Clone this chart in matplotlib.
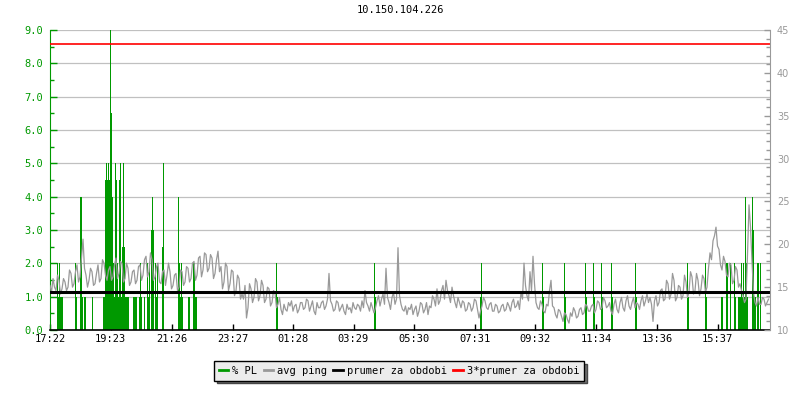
import numpy as np
import matplotlib
matplotlib.use("Agg")
import matplotlib.pyplot as plt
from matplotlib.lines import Line2D
from matplotlib.ticker import MultipleLocator, FormatStrFormatter

title = "10.150.104.226"
x_labels = ["17:22", "19:23", "21:26", "23:27", "01:28", "03:29",
            "05:30", "07:31", "09:32", "11:34", "13:36", "15:37"]
period_minutes = 1440
ping_step = 3  # minutes between ping samples

# avg ping [ms], one value per 3 minutes from 17:22 (one row ~ 2 hours)
avg_ping = [
    15.2, 14.4, 16.0, 15.0, 14.6, 16.4, 15.8, 14.2, 14.8, 16.0, 15.6, 14.6, 15.0, 17.0, 16.6, 15.0, 15.4, 16.8, 17.6, 15.6,
    16.2, 18.4, 20.6, 17.2, 16.4, 15.0, 15.8, 17.2, 16.8, 15.2, 15.4, 16.6, 17.6, 15.6, 16.0, 18.2, 17.8, 16.4, 15.8, 17.0,
    17.4, 15.8, 16.2, 17.6, 18.4, 16.0, 16.6, 18.0, 17.8, 15.6, 16.0, 17.8, 17.2, 15.2, 15.6, 16.8, 17.0, 15.4, 15.8, 17.4,
    17.6, 15.8, 16.4, 18.2, 18.6, 16.2, 16.8, 19.0, 18.2, 15.8, 16.2, 17.4, 17.8, 15.6, 15.4, 16.8, 17.0, 15.2, 16.4, 17.8,
    16.8, 14.8, 15.2, 16.4, 16.6, 14.6, 15.0, 17.0, 16.8, 15.2, 15.6, 17.4, 17.2, 15.6, 16.0, 17.8, 18.0, 15.8, 16.4, 18.4,
    18.6, 16.2, 17.0, 19.0, 18.8, 16.8, 17.2, 18.8, 18.4, 16.0, 16.6, 18.2, 19.2, 16.8, 17.4, 14.8, 15.6, 17.8, 17.4, 14.6,
    15.4, 17.0, 16.8, 14.0, 14.6, 16.4, 16.0, 13.6, 14.2, 13.6, 15.2, 11.4, 12.6, 15.4, 14.8, 13.2, 13.8, 16.0, 15.6, 13.4,
    14.0, 15.8, 15.2, 13.2, 13.6, 15.0, 14.8, 12.8, 13.2, 14.6, 14.4, 12.6, 13.0, 13.8, 12.4, 11.8, 13.0, 12.4, 12.2, 13.2,
    12.8, 13.4, 12.2, 12.8, 13.0, 12.0, 12.4, 13.2, 13.2, 12.4, 12.6, 13.6, 13.4, 12.2, 12.8, 13.4, 12.2, 11.8, 13.2, 12.6,
    12.6, 13.2, 13.4, 12.4, 12.8, 13.6, 16.6, 13.4, 13.0, 12.2, 12.4, 13.4, 13.2, 12.2, 12.6, 13.0, 12.2, 11.8, 13.0, 12.4,
    12.6, 12.0, 13.2, 12.6, 12.4, 13.0, 12.8, 12.2, 13.4, 12.6, 14.6, 13.2, 12.8, 12.2, 13.2, 12.6, 12.0, 12.6, 13.4, 14.0,
    12.8, 13.6, 14.2, 13.0, 17.2, 13.8, 13.2, 12.4, 13.8, 14.4, 13.0, 13.6, 19.6, 14.0, 13.0, 12.4, 12.2, 12.8, 11.8, 12.6,
    12.4, 13.0, 11.8, 12.4, 12.8, 11.6, 12.2, 13.2, 13.0, 12.0, 12.4, 13.2, 11.8, 12.8, 12.6, 14.0, 13.6, 12.8, 14.8, 13.0,
    13.4, 14.6, 15.2, 13.6, 15.8, 14.6, 14.0, 13.2, 15.0, 14.0, 13.2, 12.6, 13.8, 13.2, 12.6, 13.4, 13.2, 12.2, 12.4, 13.2,
    13.0, 12.2, 12.6, 13.6, 13.4, 12.4, 11.4, 12.2, 12.8, 13.8, 13.4, 12.6, 12.4, 13.0, 13.2, 12.2, 12.2, 13.0, 12.8, 12.0,
    12.2, 12.8, 13.0, 12.2, 12.4, 13.2, 12.8, 12.2, 13.2, 13.6, 12.6, 12.8, 13.4, 12.4, 14.4, 13.6, 17.8, 15.2, 14.0, 13.4,
    16.8, 14.6, 18.6, 15.4, 13.2, 12.6, 12.4, 13.4, 13.0, 12.2, 12.0, 13.0, 12.8, 14.6, 15.8, 12.8, 12.6, 11.8, 11.4, 12.4,
    12.2, 11.6, 11.0, 12.0, 11.8, 11.2, 10.8, 12.0, 11.6, 12.6, 12.2, 11.4, 11.6, 12.4, 12.6, 11.8, 12.0, 13.0, 12.8, 12.2,
    12.2, 12.8, 13.0, 12.0, 12.4, 13.4, 13.2, 12.4, 12.6, 13.8, 13.4, 12.6, 12.8, 13.2, 12.2, 11.8, 13.0, 13.6, 12.4, 12.0,
    13.2, 13.8, 12.6, 12.2, 13.4, 14.0, 12.8, 12.4, 13.2, 13.8, 12.6, 13.2, 13.0, 12.4, 13.4, 14.0, 12.8, 13.4, 14.2, 13.2,
    13.8, 13.0, 11.0, 13.4, 14.0, 12.8, 13.2, 14.6, 14.8, 13.4, 13.6, 15.8, 15.4, 13.6, 14.2, 16.6, 15.8, 13.4, 13.8, 15.2,
    15.0, 13.6, 14.0, 16.4, 15.6, 13.8, 14.4, 16.8, 16.2, 14.2, 14.6, 16.6, 15.8, 14.0, 14.8, 16.4, 16.0, 14.4, 15.0, 17.2,
    19.0, 18.2, 20.4, 21.0, 22.0, 19.8, 19.4, 17.6, 17.0, 18.6, 18.0, 16.4, 16.2, 17.8, 17.6, 15.4, 15.8, 17.4, 17.0, 15.0,
    15.4, 14.6, 14.0, 13.2, 13.6, 18.8, 24.6, 22.0, 18.0, 14.4, 13.2, 12.8, 13.8, 13.0, 13.0, 13.8, 13.6, 12.8, 13.2, 13.6,
]

# packet loss samples (minutes from 17:22, percent)
pl_minute = [14, 16, 18, 20, 22, 24, 50, 52, 60, 62, 64, 68, 70, 84,
             106, 108, 110, 112, 114, 116, 118, 120, 122, 124, 126, 128, 130, 132,
             134, 136, 138, 140, 142, 144, 146, 148, 150, 152, 154, 156,
             166, 168, 170, 172, 178, 180, 182, 188, 194, 196, 198, 202, 204, 206,
             210, 212, 214, 224, 226, 256, 258, 260, 262, 264, 276, 278,
             286, 288, 290, 292, 452, 454, 648, 650, 860, 862, 984, 986,
             1028, 1030, 1070, 1072, 1086, 1088, 1102, 1104, 1122, 1124, 1170, 1172,
             1274, 1276, 1310, 1312, 1342, 1344, 1352, 1354, 1360, 1368, 1370,
             1376, 1378, 1380, 1382, 1384, 1386, 1388, 1390, 1392, 1394,
             1404, 1406, 1408, 1410, 1414, 1416, 1420]
pl_value = [2, 1, 2, 1, 1, 1, 2, 1, 4, 4, 1, 1, 1, 1,
            1, 1, 4.5, 5, 4.5, 5, 4.5, 9, 6.5, 4, 2, 1, 5, 4.5,
            2, 1, 4.5, 5, 1, 2.5, 5, 2.5, 1, 1, 1, 1,
            1, 1, 1, 1, 1, 2, 1, 1, 2, 1, 2, 3, 4, 3,
            2, 1, 2, 2.5, 5, 4, 2, 1, 2, 1, 1, 1,
            2, 2, 1, 1, 2, 1, 2, 1, 1, 2, 2, 1,
            2, 1, 2, 1, 2, 1, 2, 1, 2, 1, 2, 1,
            2, 1, 2, 1, 1, 1, 2, 2, 2, 2, 1,
            1, 1, 1, 2, 1, 2, 1, 4, 2, 1,
            4, 3, 1, 1, 2, 2, 2]

ping_avg = 14.47  # prumer za obdobi

GREEN = "#009900"
GRAY = "#999999"
MONO = "DejaVu Sans Mono"


def to_minutes(labels):
    # clock labels -> minutes after the first one (wraps over midnight)
    h0, m0 = map(int, labels[0].split(":"))
    out = []
    for lab in labels:
        h, m = map(int, lab.split(":"))
        d = (h * 60 + m) - (h0 * 60 + m0)
        if d < 0:
            d += 1440
        out.append(d)
    return out


ping_t = np.arange(len(avg_ping)) * ping_step

fig = plt.figure(figsize=(8, 4), dpi=100)
ax = fig.add_axes([0.0625, 0.175, 0.9, 0.75])
ax2 = ax.twinx()

ax.set_xlim(0, period_minutes)
ax.set_ylim(0, 9)
ax2.set_ylim(10, 45)

ax.yaxis.set_major_locator(MultipleLocator(1))
ax.yaxis.set_minor_locator(MultipleLocator(0.5))
ax.yaxis.set_major_formatter(FormatStrFormatter("%.1f"))
ax.grid(axis="y", color="#c0c0c0", lw=0.9)
ax.set_axisbelow(True)

ax.bar(pl_minute, pl_value, width=2.3, align="edge", color=GREEN,
       linewidth=0, antialiased=False, zorder=2)

ax2.plot(ping_t, avg_ping, color=GRAY, lw=0.9)
ax2.axhline(ping_avg, color="black", lw=2.2)
ax2.axhline(3 * ping_avg, color="red", lw=1.2)

ax.set_xticks(to_minutes(x_labels))
ax.set_xticklabels(x_labels, fontfamily=MONO, fontsize=7.5)
ax.tick_params(axis="x", direction="in", length=4, width=1, color="black", pad=3)

ax.tick_params(axis="y", which="major", direction="in", length=5, width=1,
               colors=GREEN, labelsize=7.5, pad=5)
ax.tick_params(axis="y", which="minor", direction="in", length=3, width=1, colors=GREEN)
for lab in ax.get_yticklabels():
    lab.set_fontfamily(MONO)

ax2.yaxis.set_major_locator(MultipleLocator(5))
ax2.yaxis.set_minor_locator(MultipleLocator(1))
ax2.tick_params(axis="y", which="major", direction="in", length=4, width=1,
                colors=GRAY, labelsize=7, pad=5)
ax2.tick_params(axis="y", which="minor", direction="in", length=3, width=1, colors=GRAY)

for a in (ax, ax2):
    a.spines["top"].set_visible(False)
ax.spines["right"].set_visible(False)
ax.spines["left"].set_color(GREEN)
ax2.spines["left"].set_visible(False)
ax2.spines["right"].set_color(GRAY)
ax2.spines["bottom"].set_visible(False)
ax.spines["bottom"].set_linewidth(1.2)

fig.text(0.5, 0.974, title, ha="center", va="center", fontfamily=MONO, fontsize=7.5)

handles = [Line2D([], [], color=GREEN, lw=2),
           Line2D([], [], color=GRAY, lw=2),
           Line2D([], [], color="black", lw=2),
           Line2D([], [], color="red", lw=2)]
labels = ["% PL", "avg ping", "prumer za obdobi", "3*prumer za obdobi"]
leg = fig.legend(handles, labels, ncol=4, loc="center", bbox_to_anchor=(0.4988, 0.0725),
                 frameon=True, fancybox=False, shadow={"facecolor": "#707070", "alpha": 1},
                 facecolor="#ececec", edgecolor="black", framealpha=1,
                 prop={"family": MONO, "size": 7.5}, handlelength=0.9,
                 handletextpad=0.4, columnspacing=0.6, borderpad=0.45, borderaxespad=0)
leg.get_frame().set_linewidth(1)

fig.savefig("out.png", dpi=100)
